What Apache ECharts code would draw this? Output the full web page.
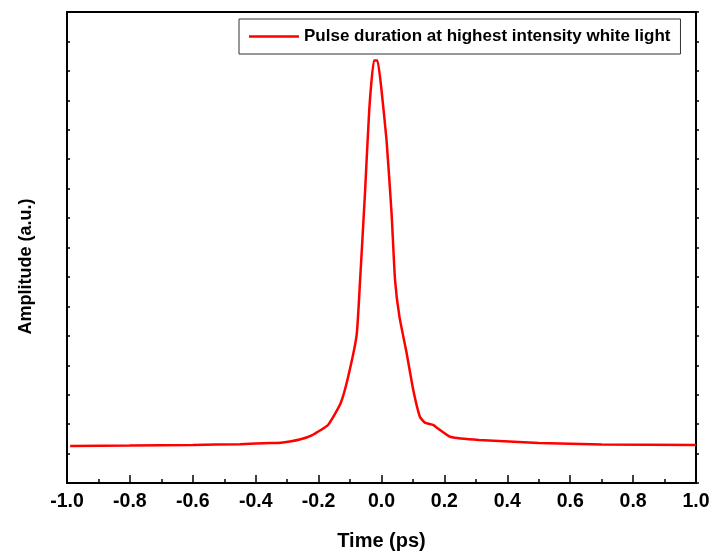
<!DOCTYPE html>
<html>
<head>
<meta charset="utf-8">
<script src="https://cdn.jsdelivr.net/npm/echarts@6/dist/echarts.min.js"></script>
<style>
  html, body { margin: 0; padding: 0; background: #fff; }
  #main { width: 714px; height: 552px; }
</style>
</head>
<body>
<div id="main"></div>
<script>
var seriesName = 'Pulse duration at highest intensity white light';
// time (ps) and amplitude (a.u.)
var timePs = [-0.99, -0.8, -0.6, -0.45, -0.35, -0.32, -0.26, -0.22, -0.17, -0.13,
  -0.106, -0.079, -0.068, -0.052, -0.039, -0.024, -0.013, 0.0, 0.016, 0.032,
  0.043, 0.057, 0.08, 0.101, 0.122, 0.138, 0.165, 0.186, 0.22, 0.31, 0.5, 0.7, 1.0];
var amplitude = [1.26, 1.27, 1.29, 1.32, 1.36, 1.37, 1.48, 1.63, 1.97, 2.71,
  3.61, 5.03, 6.9, 9.95, 12.67, 14.35, 14.35, 13.35, 11.65, 9.17,
  6.9, 5.65, 4.41, 3.16, 2.25, 2.05, 1.97, 1.8, 1.56, 1.46, 1.36, 1.31, 1.29];

var points = timePs.map(function (t, i) { return [t, amplitude[i]]; });

var chart = echarts.init(document.getElementById('main'));
var font = 'Liberation Sans, Arial, sans-serif';

var option = {
  backgroundColor: '#fff',
  animation: false,
  textStyle: { fontFamily: font },
  grid: { left: 67, right: 18, top: 12, bottom: 69, outerBoundsMode: 'none' },
  legend: {
    left: 239,
    top: 19,
    padding: [9, 10, 9, 10],
    borderColor: '#333',
    borderWidth: 1,
    icon: 'rect',
    itemWidth: 50,
    itemHeight: 2.5,
    itemGap: 5,
    data: [seriesName],
    textStyle: { fontFamily: font, fontWeight: 'bold', fontSize: 17, color: '#000' }
  },
  xAxis: [
    {
      type: 'value',
      min: -1,
      max: 1,
      interval: 0.2,
      name: 'Time (ps)',
      nameLocation: 'middle',
      nameGap: 48,
      nameTextStyle: { fontFamily: font, fontWeight: 'bold', fontSize: 20, color: '#000' },
      axisLine: { onZero: false, lineStyle: { color: '#000', width: 2 } },
      axisTick: { inside: true, length: 8, lineStyle: { color: '#000', width: 1.5 } },
      minorTick: { show: true, splitNumber: 2, length: 4, lineStyle: { color: '#000', width: 1.5 } },
      axisLabel: {
        margin: 9,
        fontFamily: font, fontWeight: 'bold', fontSize: 19.5, color: '#000',
        formatter: function (v) { return v.toFixed(1); }
      },
      splitLine: { show: false }
    },
    {
      type: 'value',
      position: 'top',
      min: -1,
      max: 1,
      interval: 0.2,
      axisLine: { show: true, onZero: false, lineStyle: { color: '#000', width: 2 } },
      axisTick: { show: false },
      axisLabel: { show: false },
      splitLine: { show: false }
    }
  ],
  yAxis: [
    {
      type: 'value',
      min: 0,
      max: 16,
      interval: 1,
      name: 'Amplitude (a.u.)',
      nameLocation: 'middle',
      nameGap: 32,
      nameTextStyle: {
        fontFamily: font, fontWeight: 'bold', fontSize: 18, color: '#000',
        padding: [0, 38, 0, 0]
      },
      axisLine: { show: true, onZero: false, lineStyle: { color: '#000', width: 2 } },
      axisTick: { show: true, inside: true, length: 3, lineStyle: { color: '#000', width: 1.5 } },
      axisLabel: { show: false },
      splitLine: { show: false }
    },
    {
      type: 'value',
      position: 'right',
      min: 0,
      max: 16,
      interval: 1,
      axisLine: { show: true, onZero: false, lineStyle: { color: '#000', width: 2 } },
      axisTick: { show: true, inside: false, length: 3, lineStyle: { color: '#000', width: 1.5 } },
      axisLabel: { show: false },
      splitLine: { show: false }
    }
  ],
  series: [
    {
      name: seriesName,
      type: 'line',
      data: points,
      showSymbol: false,
      symbol: 'none',
      smooth: 0.15,
      lineStyle: { color: '#ff0000', width: 2.5 },
      itemStyle: { color: '#ff0000' }
    }
  ]
};

chart.setOption(option);
</script>
</body>
</html>
